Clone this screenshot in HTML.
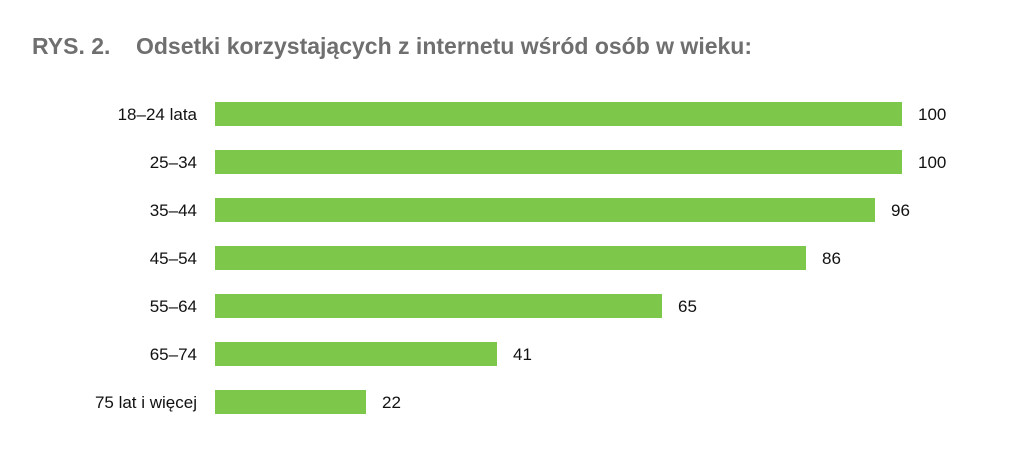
<!DOCTYPE html>
<html><head><meta charset="utf-8"><style>
body{margin:0;width:1024px;height:463px;background:#fff;position:relative;font-family:"Liberation Sans",sans-serif;overflow:hidden}
.t{position:absolute;left:32px;top:33px;font-size:23px;font-weight:bold;color:#6f6f6f;white-space:pre}
.l{position:absolute;right:827px;font-size:17px;color:#111;text-align:right;white-space:nowrap}
.b{position:absolute;left:215px;height:24px;background:#7dc84a}
.v{position:absolute;font-size:17px;color:#111}
</style></head><body>
<div class="t">RYS. 2.    Odsetki korzystających z internetu wśród osób w wieku:</div>
<div class="l" style="top:105px">18–24 lata</div><div class="b" style="top:102px;width:687px"></div><div class="v" style="top:105px;left:918px">100</div>
<div class="l" style="top:153px">25–34</div><div class="b" style="top:150px;width:687px"></div><div class="v" style="top:153px;left:918px">100</div>
<div class="l" style="top:201px">35–44</div><div class="b" style="top:198px;width:660px"></div><div class="v" style="top:201px;left:891px">96</div>
<div class="l" style="top:249px">45–54</div><div class="b" style="top:246px;width:591px"></div><div class="v" style="top:249px;left:822px">86</div>
<div class="l" style="top:297px">55–64</div><div class="b" style="top:294px;width:447px"></div><div class="v" style="top:297px;left:678px">65</div>
<div class="l" style="top:345px">65–74</div><div class="b" style="top:342px;width:282px"></div><div class="v" style="top:345px;left:513px">41</div>
<div class="l" style="top:393px">75 lat i więcej</div><div class="b" style="top:390px;width:151px"></div><div class="v" style="top:393px;left:382px">22</div>
</body></html>
